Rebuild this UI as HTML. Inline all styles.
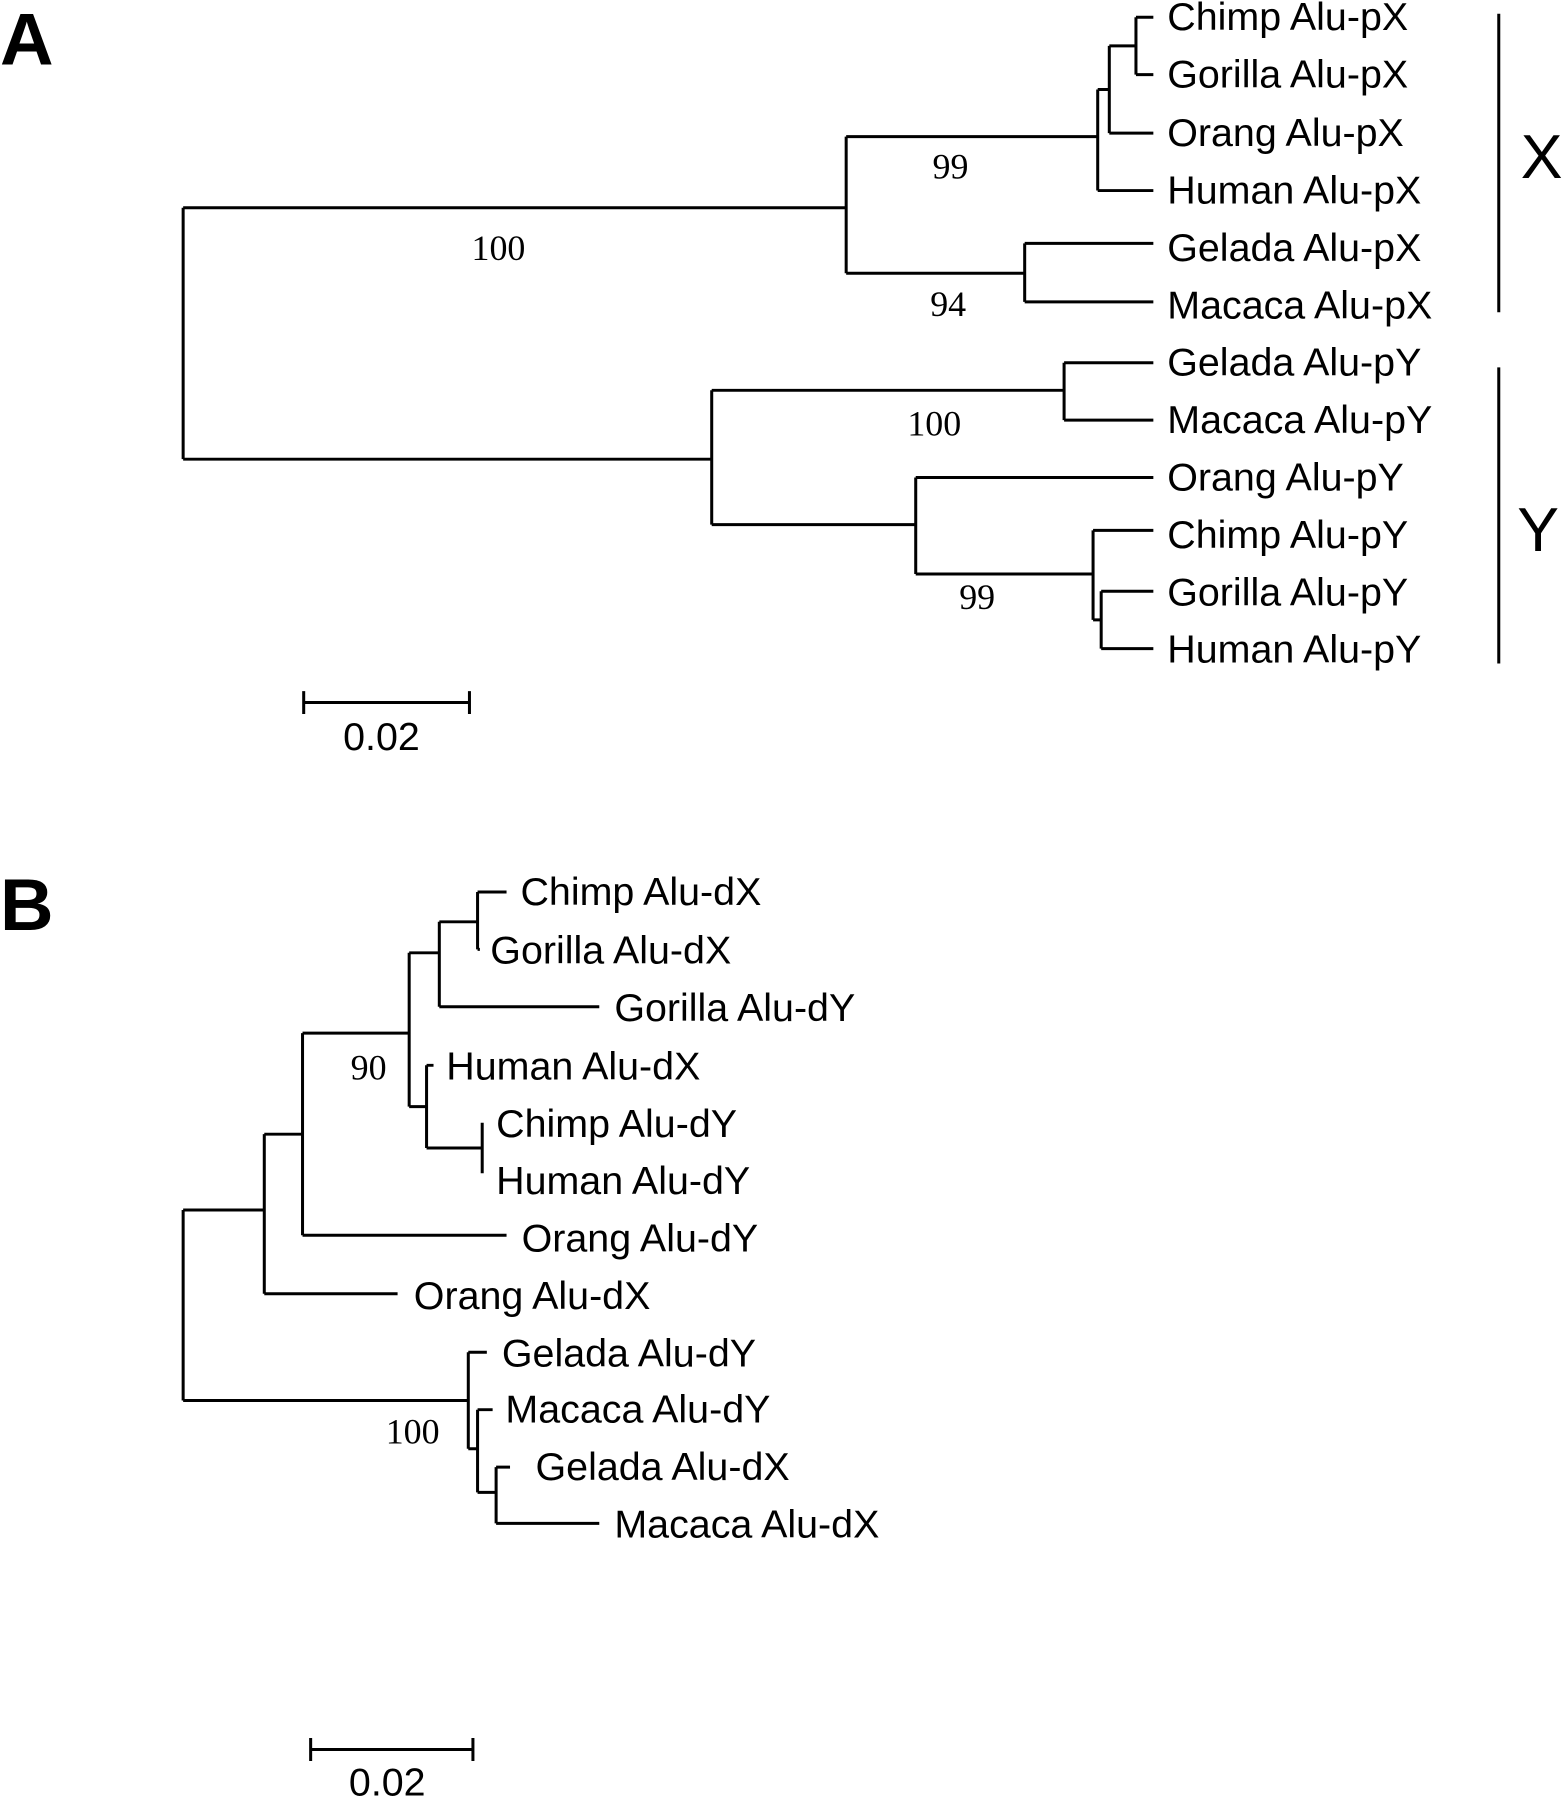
<!DOCTYPE html>
<html><head><meta charset="utf-8"><style>
html,body{margin:0;padding:0;background:#fff;}
svg{display:block;}
text{font-family:"Liberation Sans",Arial,sans-serif;}
.l{font-size:34px;dominant-baseline:central;}
.s{font-family:"Liberation Serif",serif;font-size:31px;dominant-baseline:central;text-anchor:middle;}
</style></head><body>
<svg width="1566" height="1800" viewBox="0 0 1351 1568" preserveAspectRatio="none" xmlns="http://www.w3.org/2000/svg">
<g stroke="#000" stroke-width="2.6" fill="none">
<path d="M158 181V400M158 181H730M730 119V238M730 119H947M947 78V166M947 166H995M947 78H957M957 40V116M957 116H995M957 40H980M980 15V65M980 15H995M980 65H995"/>
<path d="M730 238H884M884 212V263M884 212H995M884 263H995"/>
<path d="M158 400H614M614 340V457M614 340H918M918 316V366M918 316H995M918 366H995"/>
<path d="M614 457H790M790 416V500M790 416H995M790 500H943M943 462V540M943 462H995M943 540H950M950 515V565M950 515H995M950 565H995"/>
<path d="M1293 12V272M1293 320V578"/>
<path d="M262 612H405M262 602V622M405 602V622"/>
<path d="M158 1054V1220M158 1054H228M228 988V1127M228 1127H343M228 988H261M261 900V1076M261 1076H437M261 900H353M353 830V964"/>
<path d="M353 830H379M379 803V877M379 877H517M379 803H412M412 777V827M412 777H437M412 827H414"/>
<path d="M353 964H368M368 928V1000M368 928H374M368 1000H416M416 978V1022"/>
<path d="M158 1220H404M404 1178V1262M404 1178H420M404 1262H412M412 1228V1300M412 1228H425M412 1300H428M428 1278V1327M428 1278H440M428 1327H517"/>
<path d="M268 1524H408M268 1514V1534M408 1514V1534"/>
</g>
<g>
<text x="0" y="56" style="font-size:64px;font-weight:bold">A</text>
<text x="0" y="810" style="font-size:64px;font-weight:bold">B</text>
<text class="l" x="1007" y="15">Chimp Alu-pX</text>
<text class="l" x="1007" y="65">Gorilla Alu-pX</text>
<text class="l" x="1007" y="116">Orang Alu-pX</text>
<text class="l" x="1007" y="166">Human Alu-pX</text>
<text class="l" x="1007" y="216">Gelada Alu-pX</text>
<text class="l" x="1007" y="266">Macaca Alu-pX</text>
<text class="l" x="1007" y="316">Gelada Alu-pY</text>
<text class="l" x="1007" y="366">Macaca Alu-pY</text>
<text class="l" x="1007" y="416">Orang Alu-pY</text>
<text class="l" x="1007" y="466">Chimp Alu-pY</text>
<text class="l" x="1007" y="516">Gorilla Alu-pY</text>
<text class="l" x="1007" y="566">Human Alu-pY</text>
<text x="1312" y="155" style="font-size:54px">X</text>
<text x="1309" y="480" style="font-size:54px">Y</text>
<text class="s" x="820" y="145">99</text>
<text class="s" x="430" y="216">100</text>
<text class="s" x="818" y="265">94</text>
<text class="s" x="806" y="369">100</text>
<text class="s" x="843" y="520">99</text>
<text class="l" x="296" y="642">0.02</text>
<text class="l" x="449" y="777">Chimp Alu-dX</text>
<text class="l" x="423" y="828">Gorilla Alu-dX</text>
<text class="l" x="530" y="878">Gorilla Alu-dY</text>
<text class="l" x="385" y="929">Human Alu-dX</text>
<text class="l" x="428" y="979">Chimp Alu-dY</text>
<text class="l" x="428" y="1029">Human Alu-dY</text>
<text class="l" x="450" y="1079">Orang Alu-dY</text>
<text class="l" x="357" y="1129">Orang Alu-dX</text>
<text class="l" x="433" y="1179">Gelada Alu-dY</text>
<text class="l" x="436" y="1228">Macaca Alu-dY</text>
<text class="l" x="462" y="1278">Gelada Alu-dX</text>
<text class="l" x="530" y="1328">Macaca Alu-dX</text>
<text class="s" x="318" y="930">90</text>
<text class="s" x="356" y="1247">100</text>
<text class="l" x="301" y="1553">0.02</text>
</g>
</svg>
</body></html>
